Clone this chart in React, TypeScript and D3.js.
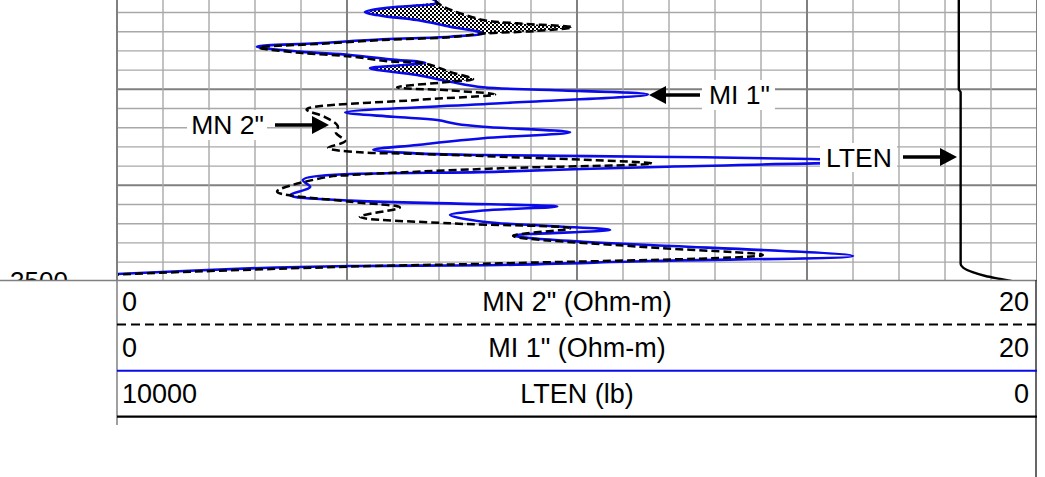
import React from 'react';
import * as d3 from 'd3';

// ---------- data ----------
// MI 1" (Ohm-m) — solid blue curve, path order by depth
const miDepth = [3470.07, 3470.96, 3471.48, 3471.95, 3472.36, 3472.78, 3473.48, 3474.17, 3474.52, 3474.79, 3475.21, 3475.56, 3476.08, 3476.43, 3476.88, 3477.23, 3477.5, 3477.81, 3478.51, 3479.21, 3479.79, 3480.07, 3480.54, 3481.46, 3482.4, 3482.86, 3483.2, 3483.61, 3483.9, 3484.48, 3485.1, 3485.8, 3486.3, 3486.67, 3486.84, 3487.02, 3487.26, 3487.5, 3488.06, 3488.58, 3489.45, 3490.18, 3491.01, 3491.6, 3491.88, 3492.21, 3492.63, 3493.1, 3493.79, 3494.24, 3494.66, 3495.23, 3495.52, 3495.88, 3496.22, 3497.36, 3497.89, 3498.3, 3498.41, 3498.65, 3499.24, 3499.4];
const miValue = [6.59, 6.96, 5.93, 5.39, 5.78, 6.52, 7.24, 7.96, 7.24, 5.78, 4.34, 3.04, 3.98, 5.07, 5.93, 6.7, 6.15, 5.5, 6.52, 7.24, 7.96, 9.41, 11.54, 8.33, 4.96, 6.0, 6.96, 7.39, 7.96, 9.85, 7.96, 6.52, 5.57, 6.52, 7.96, 11.59, 15.07, 16.37, 11.96, 8.33, 4.04, 4.2, 3.76, 5.07, 7.24, 9.57, 7.96, 7.24, 7.96, 9.41, 10.72, 8.62, 9.04, 10.13, 11.59, 16.0, 11.59, 8.33, 5.07, 2.89, 0.0, -0.59];

// MN 2" (Ohm-m) — dashed black curve
const mnDepth = [3470.07, 3470.96, 3471.43, 3472.78, 3473.13, 3473.54, 3473.93, 3474.2, 3474.57, 3474.86, 3475.28, 3475.66, 3476.2, 3476.58, 3477.1, 3477.31, 3478.2, 3478.93, 3479.17, 3479.79, 3480.12, 3480.54, 3481.11, 3482.1, 3482.89, 3483.82, 3484.55, 3485.39, 3486.11, 3486.56, 3486.72, 3487.02, 3487.73, 3488.23, 3488.93, 3489.14, 3490.65, 3491.71, 3492.31, 3493.27, 3493.96, 3494.48, 3495.26, 3496.4, 3497.26, 3498.13, 3498.47, 3499.29, 3499.45];
const mnValue = [6.7, 6.96, 7.11, 7.96, 8.7, 9.89, 9.09, 7.96, 7.24, 5.78, 4.35, 3.09, 3.98, 5.07, 5.93, 6.7, 7.24, 7.74, 7.35, 6.09, 7.24, 8.22, 6.52, 4.12, 4.52, 4.8, 4.76, 4.96, 4.59, 5.28, 6.52, 8.33, 11.63, 8.33, 5.07, 4.56, 3.48, 5.07, 6.15, 5.28, 7.24, 9.85, 8.61, 11.37, 14.04, 8.33, 5.07, 0.0, -0.59];

// LTEN (lb)
const ltenDepth = [3469.5, 3480.0, 3480.3, 3498.2, 3498.6, 3499.05, 3499.45, 3499.75, 3500.2];
const ltenValue = [850, 850, 830, 830, 800, 700, 560, 400, 150];

// shaded (MN > MI) intervals
const hatchTop = [3470.95, 3477.2];
const hatchBottom = [3474.21, 3479.22];

// depth labels
const depthLabels = [3500];

// header
const headerNames = ['MN 2" (Ohm-m)', 'MI 1" (Ohm-m)', 'LTEN (lb)'];
const headerLeft = ['0', '0', '10000'];
const headerRight = ['20', '20', '0'];

// curve labels
const labelNames = ['MN 2"', 'MI 1"', 'LTEN'];

type P = [number, number];

export default function App() {
  const L = 117, R = 1037, B = 280;
  const x = d3.scaleLinear().domain([0, 20]).range([L, R]);
  const xT = d3.scaleLinear().domain([10000, 0]).range([L, R]);
  const y = d3.scaleLinear().domain([3470, 3500]).range([-6.7, 281.3]);

  const miPts: P[] = miValue.map((v, i) => [v, miDepth[i]]);
  const mnPts: P[] = mnValue.map((v, i) => [v, mnDepth[i]]);
  const ltPts: P[] = ltenValue.map((v, i) => [v, ltenDepth[i]]);

  const line = d3
    .line<P>()
    .x((d) => x(d[0]))
    .y((d) => y(d[1]))
    .curve(d3.curveCatmullRom.alpha(0.5));
  const ltLine = d3
    .line<P>()
    .x((d) => xT(d[0]))
    .y((d) => y(d[1]))
    .curve(d3.curveMonotoneY);

  const hatchPaths = hatchTop.map((t, i) => {
    const b = hatchBottom[i];
    const mnSeg = mnPts.filter((p) => p[1] >= t && p[1] <= b);
    const miSeg = miPts.filter((p) => p[1] >= t && p[1] <= b).reverse();
    const a = line(mnSeg) || '';
    const c = line(miSeg) || '';
    return a + 'L' + c.slice(1) + 'Z';
  });

  const gridV = d3.range(0, 21, 1);
  const gridH = d3.range(3472, 3500, 2);

  const font = "'Liberation Sans', Arial, Helvetica, sans-serif";

  // header layout
  const rowBase = [311, 357, 403];
  const rowLineY = [324.5, 370.7, 416.7];

  // annotation layout
  const mnTip = { x: 329, y: 125 };
  const miTip = { x: 649, y: 95 };
  const ltTip = { x: 957, y: 157 };

  const arrow = (tx: number, ty: number, tail: number, key: string) => {
    const dir = tail < tx ? 1 : -1;
    const hl = 17;
    const hh = 9;
    const bx = tx - dir * hl;
    return (
      <g key={key}>
        <line x1={tail} y1={ty} x2={bx} y2={ty} stroke="#000" strokeWidth={3.5} />
        <path d={`M${tx},${ty}L${bx},${ty - hh}L${bx},${ty + hh}Z`} fill="#000" />
      </g>
    );
  };

  return (
    <svg
      width={1045}
      height={477}
      style={{ position: 'absolute', left: 0, top: 0, background: '#fff' }}
      fontFamily={font}
    >
      <defs>
        <clipPath id="trk">
          <rect x={L} y={0} width={R - L} height={B} />
        </clipPath>
        <pattern id="chk" width={4} height={4} patternUnits="userSpaceOnUse">
          <rect width={4} height={4} fill="#fff" />
          <rect width={2} height={2} fill="#000" />
          <rect x={2} y={2} width={2} height={2} fill="#000" />
        </pattern>
      </defs>
      <rect x={0} y={0} width={1045} height={477} fill="#fff" />

      {/* grid */}
      <g clipPath="url(#trk)">
        {gridH.map((d) => (
          <line
            key={'h' + d}
            x1={L}
            x2={R}
            y1={y(d)}
            y2={y(d)}
            stroke={d % 10 === 0 ? '#808080' : '#a8a8a8'}
            strokeWidth={d % 10 === 0 ? 2 : 1.4}
          />
        ))}
        {gridV.map((v) => (
          <line
            key={'v' + v}
            x1={x(v)}
            x2={x(v)}
            y1={0}
            y2={B}
            stroke={v % 5 === 0 ? '#808080' : '#a8a8a8'}
            strokeWidth={v % 5 === 0 ? 2 : 1.4}
          />
        ))}
      </g>

      {/* curves */}
      <g clipPath="url(#trk)">
        {hatchPaths.map((p, i) => (
          <path key={'hz' + i} d={p} fill="url(#chk)" stroke="none" />
        ))}
        <path d={line(miPts) || ''} fill="none" stroke="#0a0aeb" strokeWidth={2.6} />
        <path d={line(mnPts) || ''} fill="none" stroke="#000" strokeWidth={2.5} strokeDasharray="8,4" />
        <path d={ltLine(ltPts) || ''} fill="none" stroke="#000" strokeWidth={2.4} />
      </g>

      {/* curve labels */}
      <g fontSize={26.5} fill="#000">
        <rect x={187} y={110} width={80} height={30} fill="#fff" />
        <text x={264} y={133.5} textAnchor="end">{labelNames[0]}</text>
        {arrow(mnTip.x, mnTip.y, 275, 'a1')}

        <rect x={702} y={80} width={73} height={30} fill="#fff" />
        <text x={709} y={103.5}>{labelNames[1]}</text>
        {arrow(miTip.x, miTip.y, 700, 'a2')}

        <rect x={820} y={143} width={77} height={29} fill="#fff" />
        <text x={826} y={166.5}>{labelNames[2]}</text>
        {arrow(ltTip.x, ltTip.y, 903, 'a3')}
      </g>

      {/* depth labels */}
      {depthLabels.map((d) => (
        <text key={d} x={39} y={y(d) + 8.5} fontSize={26} textAnchor="middle" fill="#000">
          {d}
        </text>
      ))}

      {/* header panel */}
      <rect x={0} y={B} width={1045} height={477 - B} fill="#fff" />
      <line x1={0} x2={R} y1={B + 0.5} y2={B + 0.5} stroke="#808080" strokeWidth={1.5} />
      <line x1={L} x2={L} y1={B} y2={425} stroke="#808080" strokeWidth={1.5} />
      <line x1={R - 1} x2={R - 1} y1={B} y2={477} stroke="#333" strokeWidth={1.5} />
      <line x1={L} x2={R} y1={rowLineY[0]} y2={rowLineY[0]} stroke="#000" strokeWidth={2} strokeDasharray="9,5" />
      <line x1={L} x2={R} y1={rowLineY[1]} y2={rowLineY[1]} stroke="#0a0aeb" strokeWidth={2} />
      <line x1={L} x2={R} y1={rowLineY[2]} y2={rowLineY[2]} stroke="#000" strokeWidth={2.2} />
      <g fontSize={27} fill="#000">
        {headerNames.map((n, i) => (
          <g key={n}>
            <text x={122} y={rowBase[i]}>{headerLeft[i]}</text>
            <text x={(L + R) / 2} y={rowBase[i]} textAnchor="middle">{n}</text>
            <text x={1029} y={rowBase[i]} textAnchor="end">{headerRight[i]}</text>
          </g>
        ))}
      </g>
      {/* track border on top */}
      <line x1={L} x2={L} y1={0} y2={B} stroke="#808080" strokeWidth={2} />
    </svg>
  );
}
